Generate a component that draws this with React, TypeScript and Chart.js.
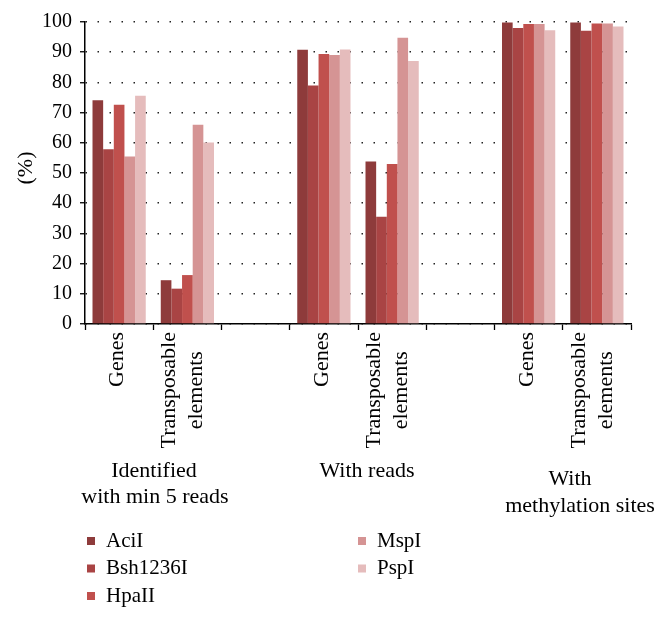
import React, { useEffect, useRef } from 'react';
import { Chart, registerables } from 'chart.js';

Chart.register(...registerables);

const categories: (string | string[])[] = [
    'Genes', ['Transposable', 'elements'], '',
    'Genes', ['Transposable', 'elements'], '',
    'Genes', ['Transposable', 'elements'],
];
const enzymes = ['AciI', 'Bsh1236I', 'HpaII', 'MspI', 'PspI'];
const aciI = [74.1, 14.5, null, 90.8, 53.8, null, 99.8, 99.8];
const bsh1236I = [57.9, 11.7, null, 79.0, 35.5, null, 98.0, 97.1];
const hpaII = [72.6, 16.2, null, 89.4, 53.0, null, 99.3, 99.5];
const mspI = [55.5, 66.0, null, 89.1, 94.8, null, 99.3, 99.5];
const pspI = [75.6, 60.1, null, 90.9, 87.1, null, 97.3, 98.5];
const colors = ['#8e3b3b', '#a94444', '#c0504d', '#d59494', '#e5bcbc'];
const yMin = 0;
const yMax = 100;
const yStep = 10;
const yTitle = '(%)';

// group captions under the category labels: [text, centre x, y]
const groupCaptions: [string, number, number][] = [
    ['Identified', 154, 471],
    ['with min 5 reads', 155, 497],
    ['With reads', 367, 471],
    ['With', 570, 479],
    ['methylation sites', 580, 506],
];

const serif = '"Liberation Serif", "DejaVu Serif", serif';

const textPlugin = {
    id: 'figureText',
    afterDraw(chart: Chart) {
        const { ctx } = chart;
        const x = chart.scales.x;
        ctx.save();
        ctx.fillStyle = '#000';
        ctx.font = `22px ${serif}`;

        // rotated category labels, lines centred on each other
        categories.forEach((label, i) => {
            const lines = Array.isArray(label) ? label : [label];
            if (!lines[0]) return;
            const cx = x.getPixelForValue(i);
            const widest = Math.max(...lines.map(l => ctx.measureText(l).width));
            ctx.save();
            ctx.translate(cx, x.top + 8);
            ctx.rotate(-Math.PI / 2);
            ctx.textAlign = 'center';
            ctx.textBaseline = 'middle';
            lines.forEach((l, j) => {
                const off = (j - (lines.length - 1) / 2) * 27 - (lines.length > 1 ? 4.5 : 1.5);
                ctx.fillText(l, -widest / 2, off);
            });
            ctx.restore();
        });

        // y title
        ctx.save();
        ctx.translate(26, (chart.chartArea.top + chart.chartArea.bottom) / 2 - 5);
        ctx.rotate(-Math.PI / 2);
        ctx.textAlign = 'center';
        ctx.textBaseline = 'middle';
        ctx.fillText(yTitle, 0, 0);
        ctx.restore();

        // group captions
        ctx.textAlign = 'center';
        ctx.textBaseline = 'middle';
        groupCaptions.forEach(([t, gx, gy]) => ctx.fillText(t, gx, gy));

        // legend, two columns
        ctx.font = `21px ${serif}`;
        ctx.textAlign = 'left';
        chart.data.datasets.forEach((ds, i) => {
            const col = i < 3 ? 0 : 1;
            const row = i < 3 ? i : i - 3;
            const lx = col === 0 ? 87 : 358;
            const ly = 541 + row * 27.5;
            ctx.fillStyle = ds.backgroundColor as string;
            ctx.fillRect(lx, ly - 4, 8, 8);
            ctx.fillStyle = '#000';
            ctx.fillText(ds.label as string, lx + 19, ly);
        });
        ctx.restore();
    },
};

const App: React.FC = () => {
    const chartRef = useRef<HTMLCanvasElement>(null);
    const chartInstance = useRef<Chart | null>(null);

    useEffect(() => {
        if (!chartRef.current) return;
        if (chartInstance.current) chartInstance.current.destroy();

        const series = [aciI, bsh1236I, hpaII, mspI, pspI];

        chartInstance.current = new Chart(chartRef.current, {
            type: 'bar',
            data: {
                labels: categories,
                datasets: series.map((d, i) => ({
                    label: enzymes[i],
                    data: d,
                    backgroundColor: colors[i],
                    borderWidth: 0,
                    barPercentage: 1,
                    categoryPercentage: 0.78,
                })),
            },
            options: {
                responsive: true,
                maintainAspectRatio: false,
                animation: false,
                layout: { padding: { top: 22, right: 31, left: 0, bottom: 0 } },
                plugins: {
                    legend: { display: false },
                    tooltip: { enabled: false },
                },
                scales: {
                    x: {
                        ticks: { display: false },
                        grid: {
                            display: true,
                            drawOnChartArea: false,
                            drawTicks: true,
                            tickLength: 6,
                            tickColor: '#000',
                            tickWidth: 1.3,
                            offset: true,
                        },
                        border: { color: '#000', width: 1.5 },
                        afterFit: (s: any) => { s.height = 295; },
                    },
                    y: {
                        min: yMin,
                        max: yMax,
                        ticks: {
                            stepSize: yStep,
                            color: '#000',
                            font: { family: serif, size: 20 },
                            padding: 8,
                        },
                        grid: {
                            color: '#222',
                            lineWidth: 1.5,
                            tickLength: 5,
                            tickColor: '#000',
                            tickWidth: 1.3,
                            tickBorderDash: [],
                        },
                        // in Chart.js 4 the grid line dash lives under border
                        border: { color: '#000', width: 1.5, dash: [1.5, 10.5] },
                        afterFit: (s: any) => { s.width = 85; },
                    },
                },
            },
            plugins: [textPlugin],
        });

        return () => {
            if (chartInstance.current) {
                chartInstance.current.destroy();
                chartInstance.current = null;
            }
        };
    }, []);

    return (
        <div style={{ position: 'absolute', left: 0, top: 0, width: 662, height: 619, background: '#fff' }}>
            <canvas ref={chartRef} />
        </div>
    );
};

export default App;
